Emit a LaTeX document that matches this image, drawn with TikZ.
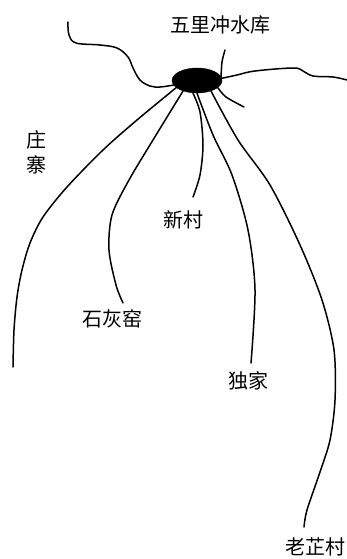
\documentclass[tikz,border=0pt]{standalone}
\usepackage{fontspec}
\newfontfamily\cjk{Noto Sans CJK SC}
\usetikzlibrary{shapes.geometric}
\tikzset{
  lbl/.style={font=\cjk\fontsize{20}{25}\selectfont, inner sep=0pt, align=center},
  river/.style={line width=1.5pt, line cap=round, line join=round},
  pond/.style={ellipse, fill=black, draw=black, minimum width=50pt, minimum height=25pt, inner sep=0pt}
}
\begin{document}
\begin{tikzpicture}[x=1pt,y=-1pt]
\useasboundingbox (0,0) rectangle (347,559);
\node[pond] (res) at (197,80.5) {};
\node[lbl] (wl) at (220,25) {五里冲水库};
\node[lbl] (zz) at (37,152) {庄\\寨};
\node[lbl] (xc) at (183,220) {新村};
\node[lbl] (shy) at (112,319) {石灰窑};
\node[lbl] (dj) at (248,381) {独家};
\node[lbl] (lzc) at (315,547) {老芷村};
\coordinate (e1) at (13,367);
\coordinate (e2) at (123,303);
\coordinate (e3) at (193,197);
\coordinate (e4) at (251,363);
\coordinate (e5) at (304,527);
\coordinate (tl) at (68,22);
\coordinate (tr) at (347,80);
\coordinate (ts) at (225,50);
\coordinate (rs) at (244,107);
% inflow / outflow streams
\draw[river] plot[smooth, tension=0.6] coordinates {(tl) (69,35) (76,43) (100,45) (117,48) (128,57) (133,68) (140,80) (150,86) (160,87) (res.191)};
\draw[river] plot[smooth, tension=0.6] coordinates {(res.5) (237,75) (255,71) (293,68) (303,71) (313,76) (333,77) (tr)};
\draw[river] plot[smooth] coordinates {(ts) (222,62) (221,78)};
\draw[river] plot[smooth] coordinates {(res.341) (226,97) (rs)};
% roads
\draw[river] plot[smooth] coordinates {(res.199) (137,120) (103,150) (67,187) (43,217) (30,243) (22,270) (17,297) (14,330) (e1)};
\draw[river] plot[smooth] coordinates {(res.217) (153,140) (129,180) (112,215) (109,250) (116,285) (e2)};
\draw[river] plot[smooth] coordinates {(res.252) (200,112) (203,145) (200,175) (e3)};
\draw[river] plot[smooth] coordinates {(res.270) (213,135) (232,175) (248,230) (255,290) (e4)};
\draw[river] plot[smooth] coordinates {(res.323) (238,140) (270,185) (300,245) (322,300) (334,350) (335,400) (330,440) (320,472) (307,510) (e5)};
\end{tikzpicture}
\end{document}
